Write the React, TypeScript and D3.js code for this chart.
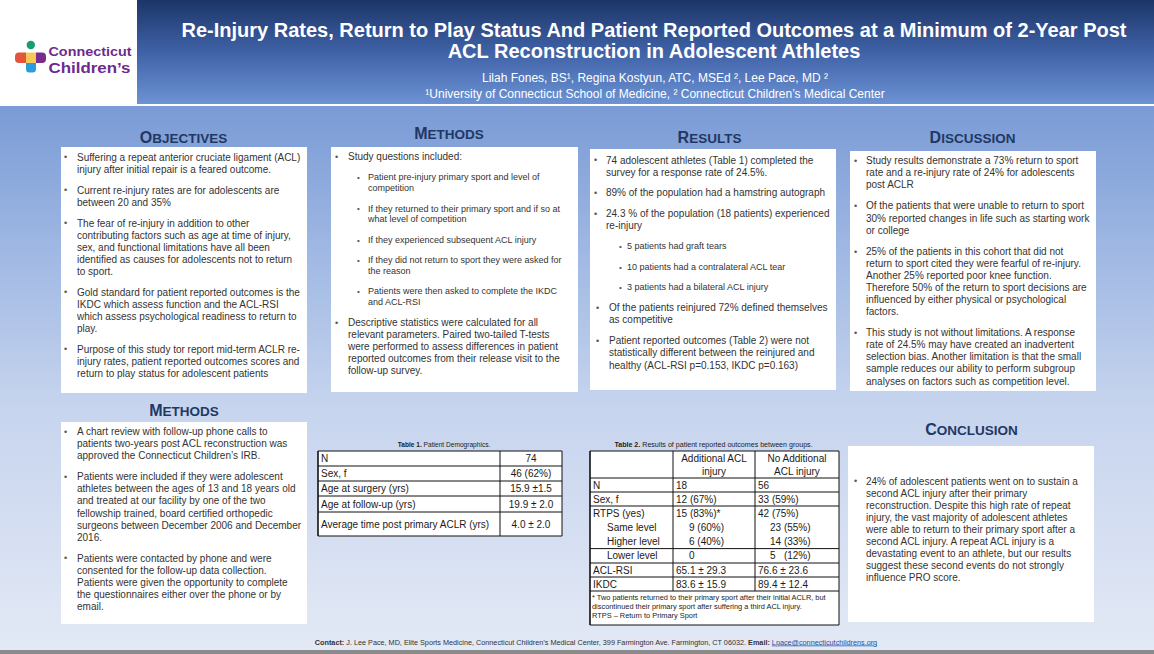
import React from "react";
import * as d3 from "d3";

const W = 1154;
const H = 654;
const FONT = "'Liberation Sans', Arial, Helvetica, sans-serif";
const TEXT = "#333333";
const NAVY = "#1f3864";

// ---------- DATA ----------
const titleLines = [
  "Re-Injury Rates, Return to Play Status And Patient Reported Outcomes at a Minimum of 2-Year Post",
  "ACL Reconstruction in Adolescent Athletes",
];
const authorLine = "Lilah Fones, BS¹, Regina Kostyun, ATC, MSEd ², Lee Pace, MD ²";
const affiliationLine = "¹University of Connecticut School of Medicine, ² Connecticut Children’s Medical Center";
const logoWords = ["Connecticut", "Children’s"];

const sectionTitles = ["Objectives", "Methods", "Results", "Discussion", "Methods", "Conclusion"];

type Item = { level: number; lines: string[] };

const objectivesItems: Item[] = [
  { level: 0, lines: ["Suffering a repeat anterior cruciate ligament (ACL)", "injury after initial repair is a feared outcome."] },
  { level: 0, lines: ["Current re-injury rates are for adolescents are", "between 20 and 35%"] },
  { level: 0, lines: ["The fear of re-injury in addition to other", "contributing factors such as age at time of injury,", "sex, and functional limitations have all been", "identified as causes for adolescents not to return", "to sport."] },
  { level: 0, lines: ["Gold standard for patient reported outcomes is the", "IKDC which assess function and the ACL-RSI", "which assess psychological readiness to return to", "play."] },
  { level: 0, lines: ["Purpose of this study tor report mid-term ACLR re-", "injury rates, patient reported outcomes scores and", "return to play status for adolescent patients"] },
];

const methodsTopItems: Item[] = [
  { level: 0, lines: ["Study questions included:"] },
  { level: 1, lines: ["Patient pre-injury primary sport and level of", "competition"] },
  { level: 1, lines: ["If they returned to their primary sport and if so at", "what level of competition"] },
  { level: 1, lines: ["If they experienced subsequent ACL injury"] },
  { level: 1, lines: ["If they did not return to sport they were asked for", "the reason"] },
  { level: 1, lines: ["Patients were then asked to complete the IKDC", "and ACL-RSI"] },
  { level: 0, lines: ["Descriptive statistics were calculated for all", "relevant parameters. Paired two-tailed T-tests", "were performed to assess differences in patient", "reported outcomes from their release visit to the", "follow-up survey."] },
];

const resultsItems: Item[] = [
  { level: 0, lines: ["74 adolescent athletes (Table 1) completed the", "survey for a response rate of 24.5%."] },
  { level: 0, lines: ["89% of the population had a hamstring autograph"] },
  { level: 0, lines: ["24.3 % of the population (18 patients) experienced", "re-injury"] },
  { level: 1, lines: ["5 patients had graft tears"] },
  { level: 1, lines: ["10 patients had a contralateral ACL tear"] },
  { level: 1, lines: ["3 patients had a bilateral ACL injury"] },
  { level: 2, lines: ["Of the patients reinjured 72% defined themselves", "as competitive"] },
  { level: 2, lines: ["Patient reported outcomes (Table 2) were not", "statistically different between the reinjured and", "healthy (ACL-RSI p=0.153, IKDC p=0.163)"] },
];

const discussionItems: Item[] = [
  { level: 0, lines: ["Study results demonstrate a 73% return to sport", "rate and a re-injury rate of 24% for adolescents", "post ACLR"] },
  { level: 0, lines: ["Of the patients that were unable to return to sport", "30% reported changes in life such as starting work", "or college"] },
  { level: 0, lines: ["25% of the patients in this cohort that did not", "return to sport cited they were fearful of re-injury.", "Another 25% reported poor knee function.", "Therefore 50% of the return to sport decisions are", "influenced by either physical or psychological", "factors."] },
  { level: 0, lines: ["This study is not without limitations. A response", "rate of 24.5% may have created an inadvertent", "selection bias. Another limitation is that the small", "sample reduces our ability to perform subgroup", "analyses on factors such as competition level."] },
];

const methodsBottomItems: Item[] = [
  { level: 0, lines: ["A chart review with follow-up phone calls to", "patients two-years post ACL reconstruction was", "approved the Connecticut Children’s IRB."] },
  { level: 0, lines: ["Patients were included if they were adolescent", "athletes between the ages of 13 and 18 years old", "and treated at our facility by one of the two", "fellowship trained, board certified orthopedic", "surgeons between December 2006 and December", "2016."] },
  { level: 0, lines: ["Patients were contacted by phone and were", "consented for the follow-up data collection.", "Patients were given the opportunity to complete", "the questionnaires either over the phone or by", "email."] },
];

const conclusionItems: Item[] = [
  { level: 0, lines: ["24% of adolescent patients went on to sustain a", "second ACL injury after their primary", "reconstruction. Despite this high rate of repeat", "injury, the vast majority of adolescent athletes", "were able to return to their primary sport after a", "second ACL injury. A repeat ACL injury is a", "devastating event to an athlete, but our results", "suggest these second events do not strongly", "influence PRO score."] },
];

const table1Caption = ["Table 1.", " Patient Demographics."];
const table1Labels = ["N", "Sex, f", "Age at surgery (yrs)", "Age at follow-up (yrs)", "Average time post primary ACLR (yrs)"];
const table1Values = ["74", "46 (62%)", "15.9 ±1.5", "19.9 ± 2.0", "4.0 ± 2.0"];

const table2Caption = ["Table 2.", " Results of patient reported outcomes between groups."];
const table2Headers = [["Additional ACL", "injury"], ["No Additional", "ACL injury"]];
const table2Labels = ["N", "Sex, f", "RTPS (yes)", "Same level", "Higher level", "Lower level", "ACL-RSI", "IKDC"];
const table2IsSub = [false, false, false, true, true, true, false, false];
const table2Injured = ["18", "12 (67%)", "15 (83%)*", "9 (60%)", "6 (40%)", "0", "65.1 ± 29.3", "83.6 ± 15.9"];
const table2Healthy = ["56", "33 (59%)", "42 (75%)", "23 (55%)", "14 (33%)", "5   (12%)", "76.6 ± 23.6", "89.4 ± 12.4"];
const table2Notes = [
  "* Two patients returned to their primary sport after their initial ACLR, but",
  "discontinued their primary sport after suffering a third ACL injury.",
  "RTPS – Return to Primary Sport",
];

const contactParts = [
  { t: "Contact:", b: true, link: false },
  { t: " J. Lee Pace, MD, Elite Sports Medicine, Connecticut Children’s Medical Center, 399 Farmington Ave. Farmington, CT 06032. ", b: false, link: false },
  { t: "Email:", b: true, link: false },
  { t: " ", b: false, link: false },
  { t: "Lpace@connecticutchildrens.org", b: false, link: true },
];

// ---------- LAYOUT HELPERS ----------
interface BoxLayout {
  bx: number; tx: number; sbx: number; stx: number; b2x: number; t2x: number;
  start: number; lh: number; slh: number; gap: number;
}

function layoutItems(items: Item[], L: BoxLayout) {
  let y = L.start;
  return items.map((it, k) => {
    if (k > 0) y += L.gap;
    const lh = it.level === 1 ? L.slh : L.lh;
    const ys = it.lines.map((_, i) => y + i * lh);
    y = ys[ys.length - 1];
    return { ...it, ys };
  });
}

function BulletBlock({ items, L }: { items: Item[]; L: BoxLayout }) {
  const laid = layoutItems(items, L);
  return (
    <g>
      {laid.map((it, k) => {
        const fs = it.level === 1 ? 9 : 10;
        const bx = it.level === 1 ? L.sbx : it.level === 2 ? L.b2x : L.bx;
        const tx = it.level === 1 ? L.stx : it.level === 2 ? L.t2x : L.tx;
        return (
          <g key={k}>
            <text x={bx} y={it.ys[0] + fs * 0.34} fontSize={fs * 0.9} fill="#555">•</text>
            {it.lines.map((ln, i) => (
              <text key={i} x={tx} y={it.ys[i] + fs * 0.35} fontSize={fs} fill={TEXT}>{ln}</text>
            ))}
          </g>
        );
      })}
    </g>
  );
}

function SectionTitle({ x, y, text }: { x: number; y: number; text: string }) {
  return (
    <text x={x} y={y} textAnchor="middle" fontWeight="bold" fill={NAVY}>
      <tspan fontSize={16}>{text[0].toUpperCase()}</tspan>
      <tspan fontSize={13.5}>{text.slice(1).toUpperCase()}</tspan>
    </text>
  );
}

const boxes = [
  { x: 61, y: 147, w: 246, h: 246 },
  { x: 331, y: 147, w: 247, h: 245 },
  { x: 590, y: 149, w: 246, h: 241 },
  { x: 850, y: 151, w: 246, h: 240 },
  { x: 61, y: 422, w: 246, h: 202 },
  { x: 848, y: 446, w: 246, h: 176 },
];

const titlePos = [
  { x: 183.5, y: 143 },
  { x: 449, y: 139 },
  { x: 709.5, y: 143 },
  { x: 972.5, y: 143 },
  { x: 184, y: 416 },
  { x: 971.5, y: 435 },
];

const layouts: BoxLayout[] = [
  { bx: 64, tx: 77, sbx: 0, stx: 0, b2x: 64, t2x: 77, start: 157, lh: 12, slh: 12, gap: 21 },
  { bx: 335, tx: 348, sbx: 357, stx: 368, b2x: 335, t2x: 348, start: 156.7, lh: 11.9, slh: 10.7, gap: 20.5 },
  { bx: 594, tx: 606, sbx: 619, stx: 627, b2x: 596, t2x: 609, start: 160, lh: 12.3, slh: 12.3, gap: 20.5 },
  { bx: 854, tx: 866, sbx: 0, stx: 0, b2x: 854, t2x: 866, start: 160.7, lh: 12.1, slh: 12.1, gap: 21 },
  { bx: 64, tx: 77, sbx: 0, stx: 0, b2x: 64, t2x: 77, start: 431.7, lh: 12.1, slh: 12.1, gap: 20.8 },
  { bx: 854, tx: 866, sbx: 0, stx: 0, b2x: 854, t2x: 866, start: 481, lh: 12, slh: 12, gap: 21 },
];

const boxItems = [objectivesItems, methodsTopItems, resultsItems, discussionItems, methodsBottomItems, conclusionItems];

const PRE: React.CSSProperties = { whiteSpace: "pre" };

// ---------- TABLES ----------
function Table1() {
  const x0 = 318, x1 = 500, x2 = 562, top = 451;
  const rowH = [15, 15, 15, 16, 24];
  const ys = [top, ...Array.from(d3.cumsum(rowH)).map((v) => top + v)];
  const colCenter = d3.mean([x1, x2]) as number;
  return (
    <g fontFamily={FONT}>
      <text x={444} y={447} textAnchor="middle" fontSize={6.6} fill="#222">
        <tspan fontWeight="bold">{table1Caption[0]}</tspan>
        <tspan style={PRE}>{table1Caption[1]}</tspan>
      </text>
      <rect x={x0} y={top} width={x2 - x0} height={ys[ys.length - 1] - top} fill="#fff" />
      {ys.map((y, i) => (
        <line key={i} x1={x0} x2={x2} y1={y} y2={y} stroke="#111" strokeWidth={1} />
      ))}
      {[x0, x1, x2].map((x, i) => (
        <line key={i} x1={x} x2={x} y1={top} y2={ys[ys.length - 1]} stroke="#111" strokeWidth={i === 0 ? 1.6 : 1} />
      ))}
      {table1Labels.map((lab, i) => {
        const cy = (ys[i] + ys[i + 1]) / 2;
        return (
          <g key={i}>
            <text x={321} y={cy + 3.6} fontSize={10} fill="#1a1a1a">{lab}</text>
            <text x={colCenter} y={cy + 3.6} fontSize={10} fill="#1a1a1a" textAnchor="middle">{table1Values[i]}</text>
          </g>
        );
      })}
    </g>
  );
}

function Table2() {
  const cols = [590, 673, 755, 839];
  const top = 451;
  const rowH = [27, 14, 14, 14, 14.3, 14.3, 14.4, 14, 14];
  const ys = [top, ...Array.from(d3.cumsum(rowH)).map((v) => top + v)];
  const gridBottom = ys[ys.length - 1];
  const bottom = 625;
  return (
    <g fontFamily={FONT}>
      <text x={713.5} y={447} textAnchor="middle" fontSize={7.1} fill="#222">
        <tspan fontWeight="bold">{table2Caption[0]}</tspan>
        <tspan style={PRE}>{table2Caption[1]}</tspan>
      </text>
      <rect x={cols[0]} y={top} width={cols[3] - cols[0]} height={bottom - top} fill="#fff" />
      {ys.map((y, i) => {
        const skip = i >= 1 && i < ys.length - 1 && table2IsSub[i - 1] && table2IsSub[i];
        return skip ? null : <line key={i} x1={cols[0]} x2={cols[3]} y1={y} y2={y} stroke="#111" strokeWidth={1} />;
      })}
      <line x1={cols[0]} x2={cols[3]} y1={bottom} y2={bottom} stroke="#111" strokeWidth={1} />
      <line x1={cols[0]} x2={cols[0]} y1={top} y2={bottom} stroke="#111" strokeWidth={1.6} />
      <line x1={cols[3]} x2={cols[3]} y1={top} y2={bottom} stroke="#111" strokeWidth={1} />
      {[cols[1], cols[2]].map((x, i) => (
        <line key={i} x1={x} x2={x} y1={top} y2={gridBottom} stroke="#111" strokeWidth={1} />
      ))}
      {table2Headers.map((hl, c) => {
        const cx = (cols[c + 1] + cols[c + 2]) / 2;
        return (
          <g key={c}>
            <text x={cx} y={462} textAnchor="middle" fontSize={10} fill="#1a1a1a">{hl[0]}</text>
            <text x={cx} y={475} textAnchor="middle" fontSize={10} fill="#1a1a1a">{hl[1]}</text>
          </g>
        );
      })}
      {table2Labels.map((lab, i) => {
        const cy = (ys[i + 1] + ys[i + 2]) / 2;
        const sub = table2IsSub[i];
        return (
          <g key={i} fontSize={10} fill="#1a1a1a">
            <text x={sub ? 607 : 593} y={cy + 3.6} style={PRE} xmlSpace="preserve">{lab}</text>
            <text x={sub ? 689 : 676} y={cy + 3.6} style={PRE} xmlSpace="preserve">{table2Injured[i]}</text>
            <text x={sub ? 770 : 758} y={cy + 3.6} style={PRE} xmlSpace="preserve">{table2Healthy[i]}</text>
          </g>
        );
      })}
      {table2Notes.map((n, i) => (
        <text key={i} x={592} y={600 + i * 9} fontSize={7.4} fill="#222">{n}</text>
      ))}
    </g>
  );
}

function Logo() {
  return (
    <g>
      <circle cx={30.8} cy={45} r={4.2} fill="#17a06d" />
      <path d="M19,52.5 H26 V63 H19 A4,4 0 0 1 15,59 V56.5 A4,4 0 0 1 19,52.5 Z" fill="#e4553b" />
      <rect x={26} y={52.5} width={10} height={10.5} fill="#f8c95a" />
      <path d="M36,52.5 H42 A4,4 0 0 1 46,56.5 V59 A4,4 0 0 1 42,63 H36 Z" fill="#7a2b8f" />
      <path d="M26,63 H36 V69 A3.5,3.5 0 0 1 32.5,72.5 H29.5 A3.5,3.5 0 0 1 26,69 Z" fill="#2c9bd9" />
      <text x={48.5} y={55.5} fontSize={13.5} fontWeight="bold" fill="#6e2a8e" textLength={83} lengthAdjust="spacingAndGlyphs">{logoWords[0]}</text>
      <text x={48.5} y={72.5} fontSize={15} fontWeight="bold" fill="#6e2a8e" textLength={82} lengthAdjust="spacingAndGlyphs">{logoWords[1]}</text>
    </g>
  );
}

export default function App() {
  const logoW = 137;
  return (
    <svg
      width={W}
      height={H}
      viewBox={`0 0 ${W} ${H}`}
      style={{ position: "absolute", left: 0, top: 0, display: "block" }}
      fontFamily={FONT}
    >
      <defs>
        <linearGradient id="hdr" x1="0" y1="0" x2="0" y2="1">
          <stop offset="0" stopColor="#1c3568" />
          <stop offset="0.5" stopColor="#3f62a6" />
          <stop offset="1" stopColor="#6d93d4" />
        </linearGradient>
        <linearGradient id="body" x1="0" y1="0" x2="0" y2="1">
          <stop offset="0" stopColor="#7a9bd6" />
          <stop offset="0.25" stopColor="#9db6e2" />
          <stop offset="0.55" stopColor="#c6d4ee" />
          <stop offset="1" stopColor="#e3e9f5" />
        </linearGradient>
      </defs>

      {/* background */}
      <rect x={0} y={0} width={W} height={H} fill="#e3e9f5" />
      <rect x={0} y={106} width={W} height={544} fill="url(#body)" />
      <rect x={0} y={0} width={logoW} height={104} fill="#ffffff" />
      <rect x={logoW} y={0} width={W - logoW} height={104} fill="url(#hdr)" />
      <rect x={0} y={104} width={W} height={2} fill="#ffffff" opacity={0.9} />
      <Logo />

      {/* title */}
      {titleLines.map((t, i) => (
        <text key={i} x={654} y={37 + i * 21} textAnchor="middle" fontSize={20} fontWeight="bold" fill="#ffffff">{t}</text>
      ))}
      <text x={655} y={82} textAnchor="middle" fontSize={12} fill="#ffffff">{authorLine}</text>
      <text x={655} y={98} textAnchor="middle" fontSize={12} fill="#ffffff">{affiliationLine}</text>

      {/* section titles and boxes */}
      {sectionTitles.map((s, i) => (
        <SectionTitle key={i} x={titlePos[i].x} y={titlePos[i].y} text={s} />
      ))}
      {boxes.map((b, i) => (
        <rect key={i} x={b.x} y={b.y} width={b.w} height={b.h} fill="#ffffff" />
      ))}
      {boxItems.map((items, i) => (
        <BulletBlock key={i} items={items} L={layouts[i]} />
      ))}

      <Table1 />
      <Table2 />

      {/* footer */}
      <text x={596} y={644.5} textAnchor="middle" fontSize={7.25} fill="#333">
        {contactParts.map((p, i) => (
          <tspan
            key={i}
            fontWeight={p.b ? "bold" : "normal"}
            fill={p.link ? "#1f4fa0" : "#333"}
            textDecoration={p.link ? "underline" : undefined}
            style={PRE}
          >
            {p.t}
          </tspan>
        ))}
      </text>
      <rect x={0} y={650} width={W} height={4} fill="#8a8a8a" />
    </svg>
  );
}
